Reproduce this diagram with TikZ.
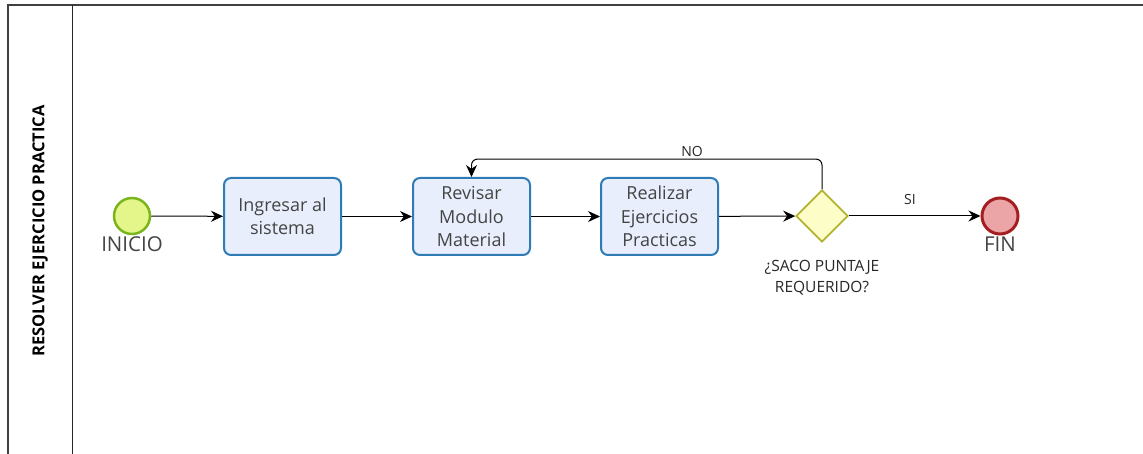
\documentclass[tikz,border=0pt]{standalone}
\usepackage{fontspec}
\setmainfont{Open Sans}
\usetikzlibrary{arrows.meta,shapes.geometric}
\definecolor{taskfill}{HTML}{E8EEFC}
\definecolor{taskline}{HTML}{2F7BB5}
\definecolor{startfill}{HTML}{E4F58A}
\definecolor{startline}{HTML}{7AB51D}
\definecolor{endfill}{HTML}{EBA5A6}
\definecolor{endline}{HTML}{A51E22}
\definecolor{gwfill}{HTML}{FDFDC8}
\definecolor{gwline}{HTML}{B3B22C}
\definecolor{txt}{HTML}{444444}
\tikzset{
  task/.style={draw=taskline, fill=taskfill, line width=2pt, rounded corners=7pt,
    minimum width=117pt, minimum height=77pt, align=center, text=txt,
    font=\fontsize{18}{23.5}\selectfont, inner sep=0pt},
  startev/.style={circle, draw=startline, fill=startfill, line width=2.5pt, minimum size=36pt, inner sep=0pt},
  endev/.style={circle, draw=endline, fill=endfill, line width=3pt, minimum size=36pt, inner sep=0pt},
  gateway/.style={diamond, draw=gwline, fill=gwfill, line width=1.8pt, minimum width=52pt, minimum height=52pt, inner sep=0pt, aspect=1},
  flow/.style={draw=black, line width=1pt, -{Stealth[length=12pt,width=11pt]}},
  evlabel/.style={font=\fontsize{20.5}{22}\selectfont, text=txt},
  small/.style={font=\fontsize{14}{19}\selectfont, text=black!85, align=center},
  gwtext/.style={font=\fontsize{15.5}{21}\selectfont, text=black!85, align=center},
}
\begin{document}
\begin{tikzpicture}[x=1pt,y=-1pt]
\useasboundingbox (0,0) rectangle (1143,454);
% pool frame
\draw[line width=1.3pt, draw=black!75] (8,454) -- (8,5) -- (1143,5);
\draw[line width=1pt, draw=black!85] (72,5) -- (72,454);
\node[rotate=90, font=\bfseries\fontsize{16.5}{18}\selectfont] (lane) at (40,231) {RESOLVER EJERCICIO PRACTICA};

% flow objects
\node[startev] (start) at (132,216) {};
\node[evlabel] (startlbl) at (132,244) {INICIO};
\node[task] (t1) at (282.5,216.5) {Ingresar al\\sistema};
\node[task] (t2) at (471.5,216.5) {Revisar\\Modulo\\Material};
\node[task] (t3) at (659.5,216.5) {Realizar\\Ejercicios\\Practicas};
\node[gateway] (gw) at (822,216) {};
\node[gwtext] (gwlbl) at (822,278) {¿SACO PUNTAJE\\REQUERIDO?};
\node[endev] (end) at (1000,216) {};
\node[evlabel] (endlbl) at (1000,244) {FIN};

% sequence flows
\draw[flow] (start) -- (t1);
\draw[flow] (t1) -- (t2);
\draw[flow] (t2) -- (t3);
\draw[flow] (t3) -- (gw);
\draw[flow] (gw) -- (end);
\node[small] (si) at (910,200) {SI};
\draw[flow, rounded corners=6pt] (gw.north) -- ++(0,-30) -| (t2.north);
\node[small] (no) at (692,151) {NO};
\end{tikzpicture}
\end{document}
